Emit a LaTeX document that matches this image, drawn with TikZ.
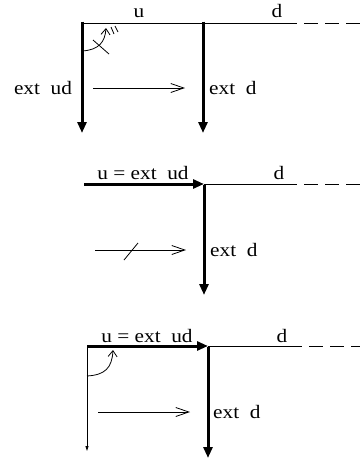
\documentclass[tikz,border=0pt]{standalone}
\usepackage{fontspec}
\setmainfont[FakeStretch=1.12]{Liberation Serif}
\usetikzlibrary{arrows.meta}
\begin{document}
\begin{tikzpicture}[x=1pt,y=-1pt,
  lbl/.style={inner sep=0pt,anchor=base,font=\fontsize{19}{21}\selectfont},
  lbll/.style={lbl,anchor=base west},
  thin/.style={line width=0.8pt},
  heavy/.style={line width=3pt,-{Triangle[length=11pt,width=9pt]}},
  dsh/.style={line width=0.8pt,dash pattern=on 14pt off 7pt},
  openarr/.style={line width=0.8pt,-{Straight Barb[length=13pt,width=9pt]}},
  curvarr/.style={line width=0.8pt,-{Straight Barb[length=6pt,width=9pt]}}]
\useasboundingbox (0,0) rectangle (360,458);
% ---------- panel 1
\coordinate (a1) at (82,23);
\coordinate (b1) at (203,23);
\coordinate (c1) at (283,23);
\coordinate (e1) at (360,23);
\coordinate (a1d) at (82,133);
\coordinate (b1d) at (203,133);
\draw[thin] (a1) -- (c1);
\draw[dsh] (c1) -- (e1);
\draw[heavy] ([yshift=1.4pt]a1) -- (a1d);
\draw[heavy] ([yshift=1.4pt]b1) -- (b1d);
\node[lbl] (u1) at (139,17) {u};
\node[lbl] (d1) at (277,17) {d};
\node[lbl] (eud1) at (43,94) {ext\ \ ud};
\node[lbll] (ed1) at (209,94) {ext\ \ d};
\coordinate (p1s) at (93,88);
\coordinate (p1e) at (185,88);
\draw[openarr] (p1s) -- (p1e);
\coordinate (k1s) at (82,51);
\coordinate (k1e) at (106,28);
\draw[curvarr] (k1s) .. controls (99,50) and (105,42) .. (k1e);
\coordinate (x1a) at (93,40);
\coordinate (x1b) at (109,54);
\draw[thin] (x1a) -- (x1b);
\coordinate (m1a) at (111,27);
\coordinate (m1b) at (114,34);
\coordinate (m2a) at (115,26);
\coordinate (m2b) at (118,32);
\draw[thin] (m1a) -- (m1b);
\draw[thin] (m2a) -- (m2b);
% ---------- panel 2
\coordinate (a2) at (84,184);
\coordinate (b2) at (204,184);
\coordinate (c2) at (283,184);
\coordinate (e2) at (360,184);
\coordinate (b2d) at (204,295);
\draw[heavy] (a2) -- (b2);
\draw[thin] (b2) -- (c2);
\draw[dsh] (c2) -- (e2);
\draw[heavy] ([yshift=-1.4pt]b2) -- (b2d);
\node[lbl] (u2) at (143,179) {u = ext\ \ ud};
\node[lbl] (d2) at (279,179) {d};
\node[lbll] (ed2) at (210,256) {ext\ \ d};
\coordinate (p2s) at (95,250);
\coordinate (p2e) at (186,250);
\draw[openarr] (p2s) -- (p2e);
\coordinate (s2a) at (124,260);
\coordinate (s2b) at (138,243);
\draw[thin] (s2a) -- (s2b);
% ---------- panel 3
\coordinate (a3) at (87,346);
\coordinate (b3) at (208,346);
\coordinate (c3) at (288,346);
\coordinate (e3) at (360,346);
\coordinate (a3d) at (87,451);
\coordinate (b3d) at (208,458);
\draw[heavy] (a3) -- (b3);
\draw[thin] (b3) -- (c3);
\draw[dsh] (c3) -- (e3);
\draw[thin,-{Triangle[length=5pt,width=3pt]}] ([yshift=-1.4pt]a3) -- (a3d);
\draw[heavy] ([yshift=-1.4pt]b3) -- (b3d);
\node[lbl] (u3) at (147,342) {u = ext\ \ ud};
\node[lbl] (d3) at (282,342) {d};
\node[lbll] (ed3) at (213,418) {ext\ \ d};
\coordinate (p3s) at (98,412);
\coordinate (p3e) at (190,412);
\draw[openarr] (p3s) -- (p3e);
\coordinate (k3s) at (87,376);
\coordinate (k3e) at (113,350);
\draw[curvarr] (k3s) .. controls (105,375) and (112,368) .. (k3e);
\end{tikzpicture}
\end{document}
